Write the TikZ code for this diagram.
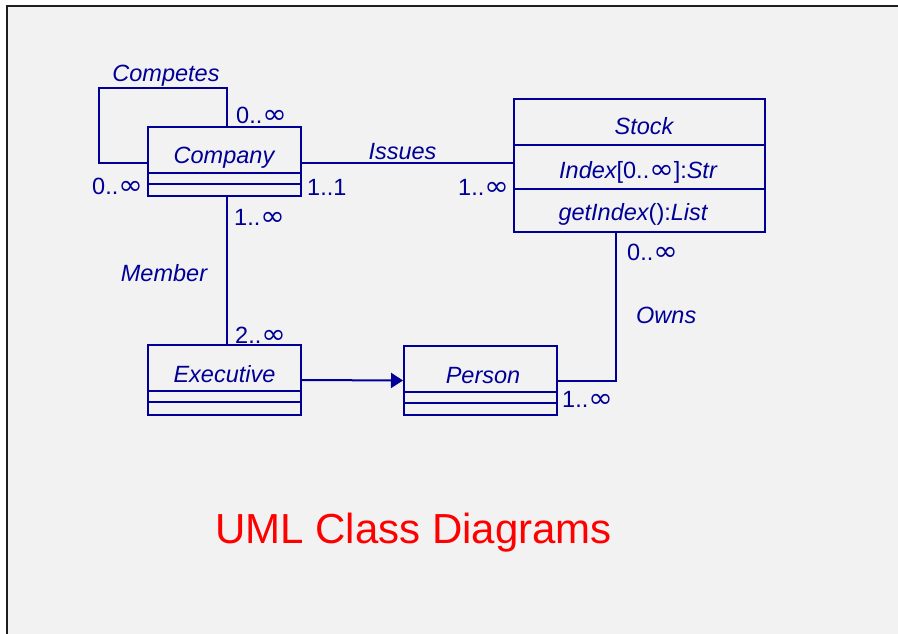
\documentclass[tikz,border=0pt]{standalone}
\usepackage{fontspec}
\usepackage{graphicx}
\setmainfont{Liberation Sans}
\newfontfamily\infsymfont{DejaVu Sans}
\usetikzlibrary{arrows.meta}
\definecolor{umlblue}{RGB}{0,0,150}
\definecolor{bggray}{RGB}{242,242,242}
\definecolor{frame}{RGB}{30,30,30}
\newcommand{\inftysym}{{\upshape\infsymfont\scalebox{1.25}[1.15]{∞}}}
\tikzset{
  classbox/.style={draw=umlblue, line width=2pt, inner sep=0pt, rectangle},
  compline/.style={draw=umlblue, line width=2pt},
  assoc/.style={draw=umlblue, line width=2pt},
  txt/.style={text=umlblue, inner sep=0pt, font=\fontsize{23.5}{28}\selectfont},
  itxt/.style={txt, font=\fontsize{23.5}{28}\selectfont\itshape},
}
\begin{document}
\begin{tikzpicture}[x=1pt,y=-1pt]
\useasboundingbox (0,0) rectangle (898,634);
\fill[bggray] (7,6) rectangle (898,634);
\draw[frame, line width=2pt] (898,6) -- (7,6) -- (7,634);

% classes
\node[classbox, minimum width=153pt, minimum height=69pt] (company) at (224.5,161.5) {};
\draw[compline] (company.west |- 0,173) -- (company.east |- 0,173);
\draw[compline] (company.west |- 0,184) -- (company.east |- 0,184);
\node[itxt, anchor=base] (companyname) at (224,163) {Company};

\node[classbox, minimum width=251pt, minimum height=133pt] (stock) at (639.5,165.5) {};
\draw[compline] (stock.west |- 0,145) -- (stock.east |- 0,145);
\draw[compline] (stock.west |- 0,189) -- (stock.east |- 0,189);
\node[itxt, anchor=base] (stockname) at (644,135) {Stock};
\node[txt, anchor=base] (stockattr) at (638,178) {\itshape Index\upshape[0..\inftysym]:\itshape Str};
\node[txt, anchor=base] (stockop) at (633,220) {\itshape getIndex\upshape():\itshape List};

\node[classbox, minimum width=153pt, minimum height=70pt] (executive) at (224.5,380) {};
\draw[compline] (executive.west |- 0,391) -- (executive.east |- 0,391);
\draw[compline] (executive.west |- 0,402) -- (executive.east |- 0,402);
\node[itxt, anchor=base] (executivename) at (224.5,382) {Executive};

\node[classbox, minimum width=153pt, minimum height=69pt] (person) at (480.5,380.5) {};
\draw[compline] (person.west |- 0,392) -- (person.east |- 0,392);
\draw[compline] (person.west |- 0,403) -- (person.east |- 0,403);
\node[itxt, anchor=base] (personname) at (483,383) {Person};

% connectors
\coordinate (loopcorner) at (99,88);
\draw[assoc] ([xshift=80pt]company.north west) |- (loopcorner) |- ([yshift=-37pt]company.north west);
\draw[assoc] (company.east |- 0,163) -- (stock.west |- 0,163);
\draw[assoc] ([xshift=80pt]company.south west) -- ([xshift=80pt]executive.north west);
\draw[assoc, -{Triangle[length=12pt,width=15pt]}] (executive.east) -- (person.west);
\draw[assoc] ([xshift=103pt]stock.south west) |- (person.east);

% labels
\node[itxt, anchor=base] (competes) at (166,82) {Competes};
\node[txt, anchor=base west] (m1) at (236,124) {0..\inftysym};
\node[txt, anchor=base east] (m2) at (143,194) {0..\inftysym};
\node[txt, anchor=base west] (m3) at (307,195) {1..1};
\node[txt, anchor=base east] (m4) at (509,195) {1..\inftysym};
\node[itxt, anchor=base] (issues) at (402.5,160) {Issues};
\node[itxt, anchor=base] (member) at (164,281) {Member};
\node[txt, anchor=base west] (m5) at (234,225) {1..\inftysym};
\node[txt, anchor=base west] (m6) at (235,343) {2..\inftysym};
\node[itxt, anchor=base west] (owns) at (636,323) {Owns};
\node[txt, anchor=base west] (m7) at (627,260) {0..\inftysym};
\node[txt, anchor=base west] (m8) at (562,407) {1..\inftysym};

\node[inner sep=0pt, text=red, font=\fontsize{42}{50}\selectfont, anchor=base] (title) at (413.5,543) {UML Class Diagrams};
\end{tikzpicture}
\end{document}
